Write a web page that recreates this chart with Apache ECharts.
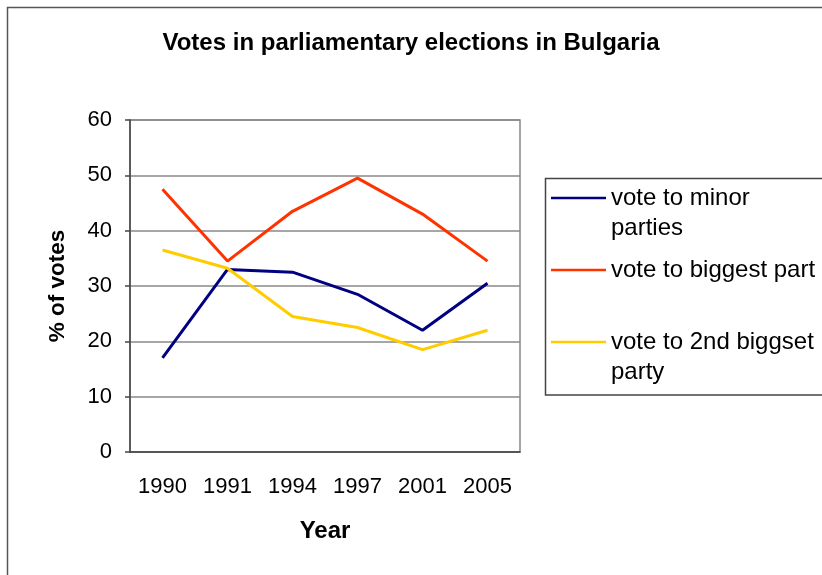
<!DOCTYPE html>
<html>
<head>
<meta charset="utf-8">
<script type="text/javascript" src="https://cdn.jsdelivr.net/npm/echarts@6/dist/echarts.min.js"></script>
<style>
    body { margin: 0; background: #fff; }
</style>
</head>
<body>
<div id="chartDiv" style="width: 822px;height:575px;"></div>
<script type="text/javascript">
    // data
    let years = ['1990', '1991', '1994', '1997', '2001', '2005'];
    let minorParties = [17, 33, 32.5, 28.5, 22, 30.5];
    let biggestParty = [47.5, 34.5, 43.5, 49.5, 43, 34.5];
    let secondParty = [36.5, 33.2, 24.5, 22.5, 18.5, 22];
    let seriesNames = ['vote to minor\nparties', 'vote to biggest part', 'vote to 2nd biggset\nparty'];

    let font = '"Liberation Sans", Arial, sans-serif';
    let myChart = echarts.init(document.getElementById('chartDiv'));
    let option = {
        backgroundColor: '#fff',
        animation: false,
        title: {
            text: 'Votes in parliamentary elections in Bulgaria',
            left: 'center',
            top: 26,
            textStyle: { fontFamily: font, fontSize: 24, fontWeight: 'bold', color: '#000' }
        },
        graphic: [
            // outer frame
            { type: 'rect', shape: { x: 7.5, y: 7.5, width: 840, height: 600 },
              style: { fill: null, stroke: '#555', lineWidth: 1.5 } },
            // legend box
            { type: 'rect', shape: { x: 545.5, y: 178.5, width: 300, height: 216.5 },
              style: { fill: null, stroke: '#444', lineWidth: 1.5 } }
        ],
        legend: {
            orient: 'vertical',
            left: 551,
            top: 153,
            padding: 0,
            icon: 'rect',
            itemWidth: 55,
            itemHeight: 2.5,
            itemGap: 12,
            // two-line names get an empty first line so the key sits beside the first line
            formatter: function (name) {
                return name.indexOf('\n') >= 0 ? ' \n' + name : name;
            },
            textStyle: { fontFamily: font, fontSize: 24, color: '#000', lineHeight: 30 },
            data: seriesNames
        },
        grid: {
            left: 130, right: 302, top: 120, bottom: 123,
            show: true, borderColor: '#888', borderWidth: 1.5
        },
        xAxis: {
            type: 'category',
            data: years,
            boundaryGap: true,
            name: 'Year',
            nameLocation: 'middle',
            nameGap: 67,
            nameTextStyle: { fontFamily: font, fontSize: 24, fontWeight: 'bold', color: '#000' },
            axisLine: { lineStyle: { color: '#444', width: 1.5 } },
            axisTick: { length: 6, lineStyle: { color: '#444', width: 1.5 } },
            axisLabel: { fontFamily: font, fontSize: 22, color: '#000', margin: 24 }
        },
        yAxis: {
            type: 'value',
            min: 0, max: 60, interval: 10,
            name: '% of votes',
            nameLocation: 'middle',
            nameRotate: 90,
            nameGap: 61,
            nameTextStyle: { fontFamily: font, fontSize: 22.5, fontWeight: 'bold', color: '#000' },
            axisLine: { show: true, lineStyle: { color: '#444', width: 1.5 } },
            axisTick: { show: true, length: 5, lineStyle: { color: '#444', width: 1.5 } },
            axisLabel: { fontFamily: font, fontSize: 22, color: '#000', margin: 18 },
            splitLine: { lineStyle: { color: '#888', width: 1.5 } }
        },
        series: [
            { name: seriesNames[0], type: 'line', data: minorParties, symbol: 'none',
              itemStyle: { color: '#000080' }, lineStyle: { color: '#000080', width: 3 } },
            { name: seriesNames[1], type: 'line', data: biggestParty, symbol: 'none',
              itemStyle: { color: '#ff3300' }, lineStyle: { color: '#ff3300', width: 3 } },
            { name: seriesNames[2], type: 'line', data: secondParty, symbol: 'none',
              itemStyle: { color: '#ffcc00' }, lineStyle: { color: '#ffcc00', width: 3 } }
        ]
    };
    myChart.setOption(option);
</script>
</body>
</html>
